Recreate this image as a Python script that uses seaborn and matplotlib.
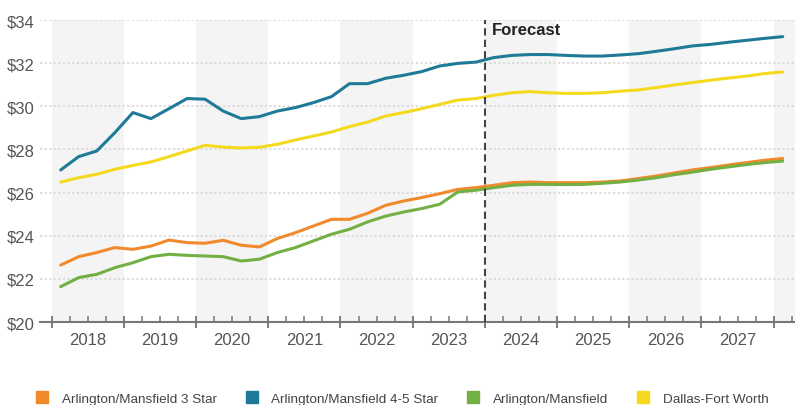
import matplotlib
matplotlib.use("Agg")
import matplotlib.pyplot as plt
from matplotlib.lines import Line2D
from matplotlib.ticker import FixedLocator, FixedFormatter, NullFormatter
import numpy as np
import pandas as pd
import seaborn as sns

# quarterly asking rents, 2018Q1 .. 2028Q1
quarters = [(y, q) for y in range(2018, 2029) for q in range(1, 5)][:41]

star_3 = [22.64, 23.03, 23.22, 23.45, 23.37, 23.52, 23.80, 23.68, 23.65, 23.79,
          23.56, 23.48, 23.87, 24.14, 24.45, 24.76, 24.76, 25.04, 25.41, 25.61,
          25.77, 25.95, 26.15, 26.23, 26.34, 26.46, 26.49, 26.46, 26.46, 26.46,
          26.49, 26.54, 26.65, 26.77, 26.91, 27.05, 27.16, 27.28, 27.39, 27.50,
          27.58]
star_45 = [27.05, 27.67, 27.93, 28.78, 29.71, 29.43, 29.89, 30.36, 30.33, 29.78,
           29.43, 29.52, 29.78, 29.94, 30.17, 30.45, 31.05, 31.05, 31.30, 31.44,
           31.61, 31.87, 31.99, 32.05, 32.26, 32.36, 32.40, 32.40, 32.36, 32.33,
           32.33, 32.38, 32.44, 32.55, 32.67, 32.80, 32.87, 32.97, 33.06, 33.15,
           33.23]
submarket = [21.64, 22.06, 22.21, 22.52, 22.75, 23.03, 23.14, 23.09, 23.06, 23.03,
             22.83, 22.91, 23.22, 23.45, 23.76, 24.07, 24.30, 24.64, 24.91, 25.10,
             25.26, 25.46, 26.03, 26.11, 26.23, 26.34, 26.38, 26.38, 26.37, 26.38,
             26.43, 26.49, 26.58, 26.69, 26.83, 26.95, 27.08, 27.19, 27.30, 27.39,
             27.46]
metro = [26.49, 26.69, 26.85, 27.08, 27.26, 27.42, 27.67, 27.93, 28.19, 28.11,
         28.07, 28.10, 28.24, 28.44, 28.62, 28.81, 29.06, 29.27, 29.55, 29.71,
         29.89, 30.09, 30.29, 30.36, 30.51, 30.63, 30.68, 30.63, 30.60, 30.60,
         30.63, 30.70, 30.76, 30.87, 30.99, 31.10, 31.21, 31.31, 31.40, 31.52,
         31.59]

series_names = ["Arlington/Mansfield 3 Star", "Arlington/Mansfield 4-5 Star",
                "Arlington/Mansfield", "Dallas-Fort Worth"]
series_values = [star_3, star_45, submarket, metro]
colors = ["#F08A2C", "#1F7A98", "#72B043", "#F5D91E"]

year_labels = [str(y) for y in range(2018, 2028)]
y_ticks = [20, 22, 24, 26, 28, 30, 32, 34]
forecast_start = 2024

# long form frame
rows = []
for name, vals in zip(series_names, series_values):
    for (yr, q), v in zip(quarters, vals):
        rows.append({"period": yr + (q - 0.5) / 4, "rent": v, "series": name})
df = pd.DataFrame(rows)

sns.set_style("white")
plt.rcParams["font.family"] = ["Liberation Sans", "DejaVu Sans"]

fig = plt.figure(figsize=(7.95, 4.06), dpi=100)
ax = fig.add_axes([0.0503, 0.2044, 0.9497, 0.7438])

# alternating year bands
for yr in range(2018, 2029, 2):
    ax.axvspan(yr, yr + 1, color="#F4F4F4", zorder=0, lw=0)

sns.lineplot(data=df, x="period", y="rent", hue="series", hue_order=series_names,
             palette=colors, linewidth=2.2, legend=False, ax=ax, zorder=3)

ax.set_xlim(2017.838, 2028.295)
ax.set_ylim(20, 34)

# y axis
ax.set_yticks(y_ticks)
ax.set_yticklabels([f"${t}" for t in y_ticks])
ax.tick_params(axis="y", length=0, pad=3.6, labelsize=12, labelcolor="#555555")
for t in y_ticks[1:]:
    ax.axhline(t, color="#D5D5D5", lw=1.1, ls=(0, (1.5, 1.5)), zorder=1)

# x axis: year boundaries (major), quarter ticks (minor), labels at mid-year
ax.xaxis.set_major_locator(FixedLocator(list(range(2018, 2029))))
ax.xaxis.set_major_formatter(NullFormatter())
minor_pos, minor_lab = [], []
for yr in range(2018, 2029):
    for off in (0.25, 0.5, 0.75):
        minor_pos.append(yr + off)
        minor_lab.append(str(yr) if off == 0.5 and str(yr) in year_labels else "")
ax.xaxis.set_minor_locator(FixedLocator(minor_pos))
ax.xaxis.set_minor_formatter(FixedFormatter(minor_lab))
ax.tick_params(axis="x", which="major", direction="inout", length=8, width=1.2,
               color="#666666", bottom=True)
ax.tick_params(axis="x", which="minor", direction="in", length=4.3, width=1.1,
               color="#777777", pad=7, labelsize=12, labelcolor="#555555", bottom=True)

for s in ["top", "right", "left"]:
    ax.spines[s].set_visible(False)
ax.spines["bottom"].set_color("#777777")
ax.spines["bottom"].set_linewidth(1.5)
ax.set_xlabel("")
ax.set_ylabel("")

# forecast marker
ax.axvline(forecast_start, color="#444444", lw=1.5, ls=(0, (3.5, 2)), zorder=4)
ax.text(forecast_start + 0.1, 33.57, "Forecast", fontsize=12, fontweight="bold",
        color="#222222", va="center", ha="left")

handles = [Line2D([0], [0], marker="s", color="none", markerfacecolor=c,
                  markeredgecolor=c, markersize=8.5) for c in colors]
fig.legend(handles, series_names, loc="center", bbox_to_anchor=(0.506, 0.015),
           ncol=4, frameon=False, fontsize=9.7, handlelength=0.9,
           handletextpad=1.0, columnspacing=2.15, borderpad=0, labelcolor="#444444")

fig.savefig("out.png", dpi=100)
